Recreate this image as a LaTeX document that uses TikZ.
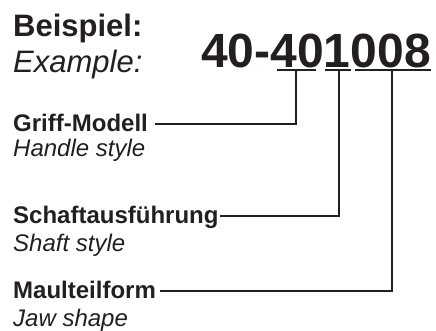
\documentclass[tikz,border=0pt]{standalone}
\usepackage{fontspec}
\setmainfont{Liberation Sans}
\definecolor{ink}{HTML}{231F20}
\begin{document}
\begin{tikzpicture}[x=1pt,y=-1pt,
  lbl/.style={inner sep=0pt,anchor=base west,text=ink},
  bf/.style={lbl,font=\fontsize{24}{28}\selectfont\bfseries},
  it/.style={lbl,font=\fontsize{24}{28}\selectfont\itshape},
  head/.style={lbl,font=\fontsize{31}{34}\selectfont\bfseries},
  headit/.style={lbl,font=\fontsize{31}{34}\selectfont\itshape},
  num/.style={lbl,font=\fontsize{48}{52}\selectfont\bfseries},
  con/.style={draw=ink,line width=2pt},
  ul/.style={draw=ink,line width=1.8pt}]
\useasboundingbox (0,0) rectangle (436,331);
\node[head] (bsp) at (13,37) {Beispiel:};
\node[headit] (ex) at (13,72.5) {Example:};
\node[num] (nr) at (201,68) {40-401008};
\node[bf] (griff) at (13,131.5) {Griff-Modell};
\node[it] (handle) at (13,156.7) {Handle style};
\node[bf] (schaft) at (13,223.3) {Schaftausführung};
\node[it] (shaft) at (13,251) {Shaft style};
\node[bf] (maul) at (13,298.3) {Maulteilform};
\node[it] (jaw) at (13,326.7) {Jaw shape};
% underlines
\coordinate (u1a) at (277,69.8); \coordinate (u1b) at (316,69.8);
\coordinate (u2a) at (325,69.8); \coordinate (u2b) at (351,69.8);
\coordinate (u3a) at (355,69.8); \coordinate (u3b) at (431,69.8);
\path[ul] (u1a) -- (u1b);
\path[ul] (u2a) -- (u2b);
\path[ul] (u3a) -- (u3b);
\coordinate (t1) at (296,69.8);
\coordinate (t2) at (338.5,69.8);
\coordinate (t3) at (392,69.8);
\coordinate (s1) at (155,124);
\coordinate (s2) at (220,216);
\coordinate (s3) at (160,291);
\path[con] (s1) -| (t1);
\path[con] (s2) -| (t2);
\path[con] (s3) -| (t3);
\end{tikzpicture}
\end{document}
